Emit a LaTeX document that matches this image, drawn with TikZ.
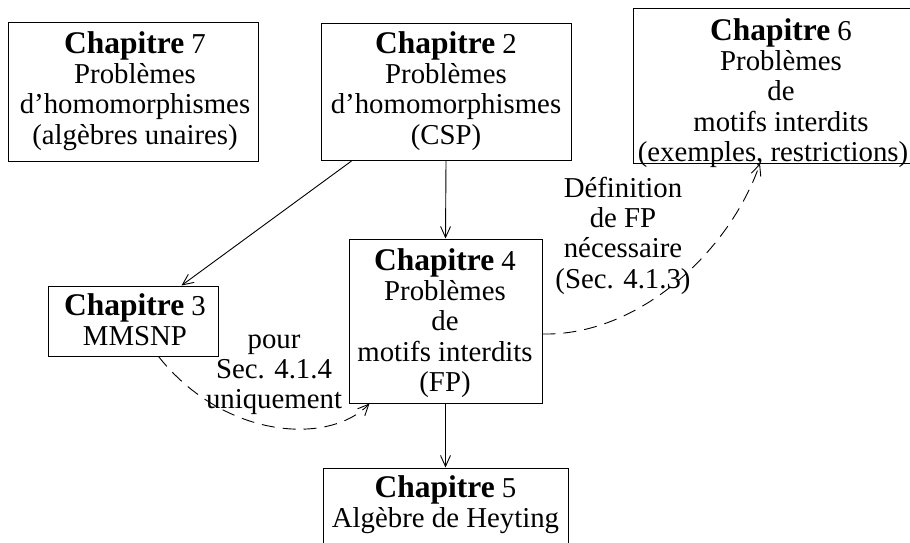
\documentclass[tikz,border=0pt]{standalone}
\usepackage{fontspec}
\setmainfont{Liberation Serif}
\usetikzlibrary{arrows.meta,calc}
\newcommand\firstln{\rule{0pt}{22pt}}
\newcommand\chapname[1]{{\fontsize{31.5pt}{30pt}\selectfont\bfseries Chapitre} #1}
\begin{document}
\begin{tikzpicture}[x=1pt,y=-1pt,
  box/.style={draw, line width=1pt, inner sep=0pt},
  txt/.style={align=center, inner sep=0pt, anchor=north, font=\fontsize{28.8pt}{30.3pt}\selectfont},
  arr/.style={-{Straight Barb[length=11pt,width=10pt]}, line width=0.9pt},
  dsh/.style={dash pattern=on 13pt off 8pt}]
\useasboundingbox (0,0) rectangle (910,543);
\clip (0,0) rectangle (910,543);
% boxes
\node[box, minimum width=250pt, minimum height=138pt] (c7) at (133,92) {};
\node[box, minimum width=250pt, minimum height=137pt] (c2) at (446,92) {};
\node[box, minimum width=296pt, minimum height=154pt] (c6) at (781,86) {};
\node[box, minimum width=170pt, minimum height=70pt] (c3) at (133,321) {};
\node[box, minimum width=193pt, minimum height=164pt] (c4) at (445.5,321) {};
\node[box, minimum width=245pt, minimum height=82pt] (c5) at (445.5,509) {};
% texts
\node[txt] (t7) at (135,31) {\firstln\chapname{7}\\Problèmes\\d’homomorphismes\\(algèbres unaires)};
\node[txt] (t2) at (446,31) {\firstln\chapname{2}\\Problèmes\\d’homomorphismes\\(CSP)};
\node[txt] (t6) at (781,18) {\firstln\chapname{6}\\Problèmes\\de\\motifs interdits\\(exemples, restrictions)\kern16pt};
\node[txt] (t3) at (135,293) {\firstln\chapname{3}\\MMSNP};
\node[txt] (t4) at (445,248) {\firstln\chapname{4}\\Problèmes\\de\\motifs interdits\\(FP)};
\node[txt] (t5) at (445.5,475) {\firstln\chapname{5}\\Algèbre de Heyting};
% labels
\node[txt] (l1) at (274,326) {\firstln pour\\Sec. 4.1.4\\uniquement};
\node[txt] (l2) at (623,175) {\firstln Définition\\de FP\\nécessaire\\(Sec. 4.1.3)};
% connectors
\draw[arr] (c2.south) -- (c4.north);
\draw[arr] ($(c2.south west)+(31,0)$) -- ($(c3.north west)+(134,0)$);
\draw[arr] (c4.south) -- (c5.north);
\draw[arr,dsh] ($(c3.south west)+(111,0)$) .. controls (225,440) and (330,445) .. ($(c4.south west)+(21,0)$);
\draw[arr,dsh] ($(c4.east)+(0,13)$) .. controls (640,336) and (730,250) .. ($(c6.south)+(-21,0)$);
\end{tikzpicture}
\end{document}
